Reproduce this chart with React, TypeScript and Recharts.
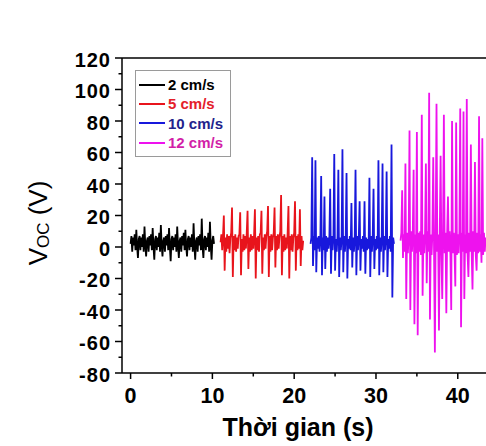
import { LineChart, Line, XAxis, YAxis, Legend, ReferenceLine, Label } from "recharts";

const STEP = 0.1; // sampling interval, s

// 2 cm/s, starts at 0 s
const v2 = [
  2, 7, -3, 6, 1, 8, -2, 11, 0, -7,
  5, 7, -2, 6, 0, 8, -3, 13, 1, -6,
  4, 6, -3, 7, 1, 8, -2, 12, 0, -8,
  5, 7, -2, 6, 0, 9, -3, 14, 1, -6,
  4, 6, -3, 7, 1, 8, -2, 12, 0, -9,
  5, 7, -2, 6, 0, 8, -3, 13, 1, -7,
  4, 6, -3, 7, 1, 9, -2, 11, 0, -6,
  5, 7, -2, 6, 0, 8, -3, 15, 1, -8,
  4, 6, -3, 7, 1, 8, -2, 18, 0, -7,
  5, 7, -2, 6, 0, 9, -3, 16, 1, -8,
  4, 7, 2,
];

// 5 cm/s, starts at 11 s
const v5 = [
  3, 8, -2, 7, 20, -15, 6, -3, 8, -1,
  7, -4, 6, 9, 25, -19, 7, -2, 8, -3,
  6, -1, 7, 8, 22, -18, 5, -3, 8, -2,
  7, -1, 9, 23, -14, 6, -3, 8, -2, 7,
  -1, 8, 24, -20, 6, -2, 7, -3, 8, 9,
  23, -17, 6, -2, 8, -1, 7, 10, 26, -19,
  7, -3, 8, -2, 6, 9, 25, -13, 7, -2,
  8, -1, 6, 10, 33, -18, 7, -3, 8, -2,
  6, -1, 9, 26, -20, 7, -2, 8, -3, 6,
  9, 29, -15, 7, -2, 8, -1, 24, -12, 7,
  -2, 4,
];

// 10 cm/s, starts at 22 s
const v10 = [
  2, 6, 57, -12, 7, -2, 55, -16, 6, -1,
  7, -3, 5, 45, -18, 6, -2, 32, -14, 7,
  -3, 6, -1, 5, 37, -17, 7, -2, 6, 59,
  -15, 5, -3, 7, 49, -19, 6, -2, 5, 62,
  -16, 7, -3, 6, 47, -20, 5, -1, 7, -2,
  28, -13, 6, -3, 5, 49, -18, 7, -2, 6,
  29, -15, 5, -1, 7, -3, 29, -17, 6, -2,
  5, -1, 44, -19, 7, -3, 6, 37, -14, 5,
  -2, 7, -1, 55, -18, 6, -3, 5, 53, -16,
  7, -2, 6, 48, -19, 5, -1, 7, -3, 65,
  -32, 6, 2,
];

// 12 cm/s, starts at 33 s
const v12 = [
  4, 9, 36, -7, 8, -3, 53, -33, 9, -4,
  8, 74, -40, 10, -3, 9, 49, -49, 8, -4,
  73, -56, 9, -3, 10, -5, 84, -31, 8, -4,
  9, 53, -23, 10, -3, 98, -46, 8, -5, 9,
  57, -4, -67, 10, 91, -3, 8, -53, 9, 58,
  -5, -33, 10, 84, -4, 9, -42, 8, 32, -3,
  10, -5, -40, 80, -4, 9, -3, -25, 79, -5,
  8, -4, 10, 88, -51, 9, -3, 86, -33, 8,
  -4, 94, -5, -19, 9, -3, 65, -4, -27, 10,
  -3, 54, -5, -15, 9, -4, 83, -3, 8, -10,
  69, -5, 9, -3, 6,
];

const SERIES = [
  { name: "2 cm/s", start: 0, values: v2, stroke: "#000000", text: "#000000", key: "s2" },
  { name: "5 cm/s", start: 11, values: v5, stroke: "#e8141c", text: "#e4202a", key: "s5" },
  { name: "10 cm/s", start: 22, values: v10, stroke: "#1818dc", text: "#23238c", key: "s10" },
  { name: "12 cm/s", start: 33, values: v12, stroke: "#ee12ee", text: "#d21fa8", key: "s12" },
];

const X_TICKS = [0, 5, 10, 15, 20, 25, 30, 35, 40];
const Y_TICKS = [-80, -70, -60, -50, -40, -30, -20, -10, 0, 10, 20, 30, 40, 50, 60, 70, 80, 90, 100, 110, 120];

const FONT = "'Liberation Sans', Arial, sans-serif";

function XTick({ x, y, payload }: any) {
  const major = payload.value % 10 === 0;
  return (
    <g>
      <line x1={x} x2={x} y1={y} y2={y + (major ? 6 : 3.5)} stroke="#000" strokeWidth={1.5} />
      {major && (
        <text x={x} y={y + 29.5} textAnchor="middle" fontFamily={FONT} fontWeight="bold" fontSize={21.5} fill="#000">
          {payload.value}
        </text>
      )}
    </g>
  );
}

function YTick({ x, y, payload }: any) {
  const major = payload.value % 20 === 0;
  return (
    <g>
      <line x1={x - (major ? 7 : 3.5)} x2={x} y1={y} y2={y} stroke="#000" strokeWidth={1.5} />
      {major && (
        <text x={x - 11} y={y + 8.5} textAnchor="end" fontFamily={FONT} fontWeight="bold" fontSize={20} letterSpacing={1} fill="#000">
          {payload.value}
        </text>
      )}
    </g>
  );
}

function LegendBox() {
  return (
    <div
      style={{
        boxSizing: "border-box",
        width: 96,
        height: 87,
        border: "1px solid #9a9a9a",
        background: "#fff",
        padding: "4px 0 0 3px",
        fontFamily: FONT,
        fontWeight: "bold",
        fontSize: 15,
      }}
    >
      {SERIES.map((s) => (
        <div key={s.key} style={{ display: "flex", alignItems: "center", height: 19.3 }}>
          <span style={{ display: "inline-block", width: 26, height: 2, background: s.stroke, marginRight: 3 }} />
          <span style={{ color: s.text, whiteSpace: "nowrap" }}>{s.name}</span>
        </div>
      ))}
    </div>
  );
}

export default function App() {
  return (
    <div style={{ position: "absolute", left: 0, top: 0, width: 486, height: 446, overflow: "hidden", background: "#fff" }}>
      <LineChart width={486} height={446} margin={{ top: 58, right: 0, bottom: 0, left: 0 }}>
        <XAxis
          type="number"
          dataKey="t"
          domain={[-1.05, 43.45]}
          ticks={X_TICKS}
          interval={0}
          height={73}
          tickSize={0}
          tickMargin={0}
          tickLine={false}
          axisLine={{ stroke: "#000", strokeWidth: 1.5 }}
          tick={<XTick />}
          allowDataOverflow
        >
          <Label
            content={() => (
              <text x={298} y={436} textAnchor="middle" fontFamily={FONT} fontWeight="bold" fontSize={25} fill="#000">
                Thời gian (s)
              </text>
            )}
          />
        </XAxis>
        <YAxis
          type="number"
          domain={[-80, 120]}
          ticks={Y_TICKS}
          interval={0}
          width={122}
          tickSize={0}
          tickMargin={0}
          tickLine={false}
          axisLine={{ stroke: "#000", strokeWidth: 1.5 }}
          tick={<YTick />}
        >
          <Label
            content={() => (
              <text
                x={38}
                y={223}
                transform="rotate(-90 38 223)"
                textAnchor="middle"
                dominantBaseline="central"
                fontFamily={FONT}
                fontSize={26}
                fill="#000"
              >
                V<tspan fontSize={17} dy={5}>OC</tspan>
                <tspan dy={-5}> (V)</tspan>
              </text>
            )}
          />
        </YAxis>
        <ReferenceLine y={120} stroke="#000" strokeWidth={1.5} />
        <Legend
          layout="vertical"
          align="center"
          verticalAlign="middle"
          wrapperStyle={{ left: 135, top: 70, width: 96, height: 87 }}
          content={() => <LegendBox />}
        />
        {SERIES.map((s) => (
          <Line
            key={s.key}
            name={s.name}
            data={s.values.map((v, i) => ({ t: +(s.start + i * STEP).toFixed(1), v }))}
            dataKey="v"
            type="linear"
            stroke={s.stroke}
            strokeWidth={1.8}
            dot={false}
            activeDot={false}
            isAnimationActive={false}
          />
        ))}
      </LineChart>
    </div>
  );
}
